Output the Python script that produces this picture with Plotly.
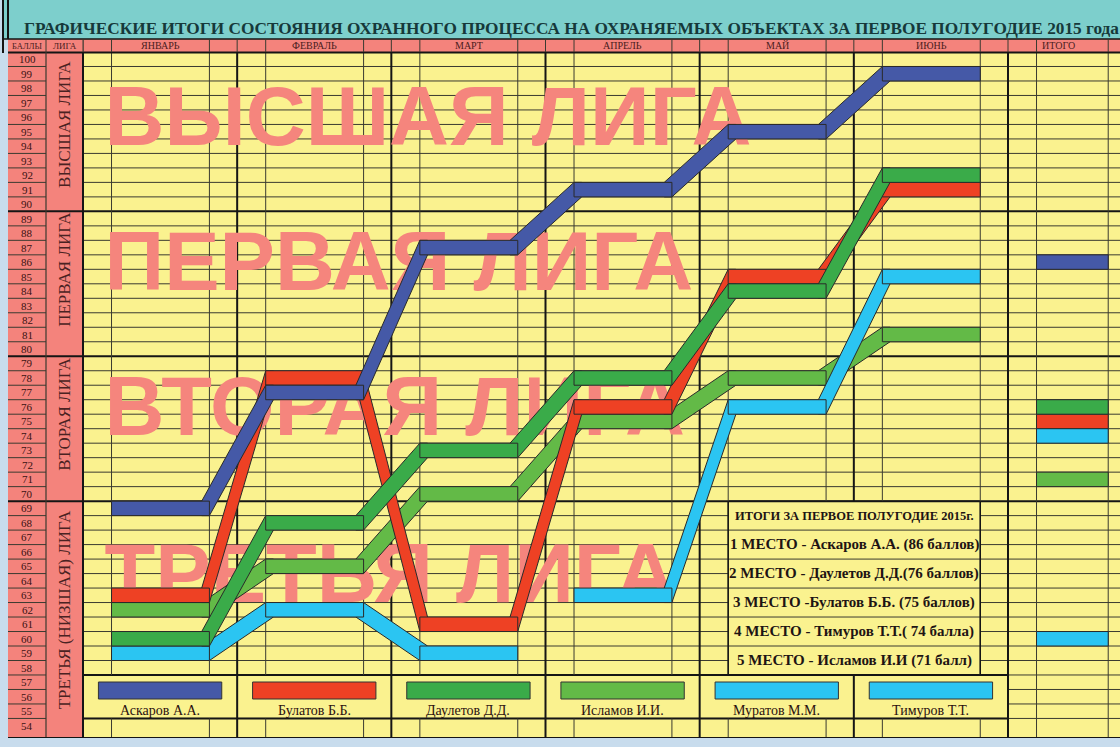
import plotly.graph_objects as go

# ---------------- data ----------------
title_text = "ГРАФИЧЕСКИЕ ИТОГИ СОСТОЯНИЯ ОХРАННОГО ПРОЦЕССА НА ОХРАНЯЕМЫХ ОБЪЕКТАХ ЗА ПЕРВОЕ ПОЛУГОДИЕ 2015 года"
months = ["ЯНВАРЬ", "ФЕВРАЛЬ", "МАРТ", "АПРЕЛЬ", "МАЙ", "ИЮНЬ"]
total_header = "ИТОГО"
score_header = "БАЛЛЫ"
league_header = "ЛИГА"
score_rows = list(range(100, 53, -1))

league_names = ["ВЫСШАЯ ЛИГА", "ПЕРВАЯ ЛИГА", "ВТОРАЯ ЛИГА", "ТРЕТЬЯ (НИЗШАЯ) ЛИГА"]
league_top = [100, 90, 80, 70]
league_bottom = [91, 81, 71, 54]
watermark_names = ["ВЫСШАЯ ЛИГА", "ПЕРВАЯ ЛИГА", "ВТОРАЯ ЛИГА", "ТРЕТЬЯ ЛИГА"]

players = ["Аскаров А.А.", "Булатов Б.Б.", "Даулетов Д.Д.", "Исламов И.И.", "Муратов М.М.", "Тимуров Т.Т."]
player_colors = ["#4559a7", "#ee4124", "#3aab49", "#63ba47", "#2bc5f2", "#2bc5f2"]
askarov = [69, 77, 87, 91, 95, 99]
bulatov = [63, 78, 61, 76, 85, 91]
dauletov = [60, 68, 73, 78, 84, 92]
islamov = [62, 65, 70, 75, 78, 81]
muratov = [59, 62, 59, None, None, None]
timurov = [None, None, None, 63, 76, 85]
series = [askarov, bulatov, dauletov, islamov, muratov, timurov]
totals = [86, 75, 76, 71, 60, 74]

summary_title = "ИТОГИ ЗА ПЕРВОЕ ПОЛУГОДИЕ 2015г."
summary_lines = [
    "1 МЕСТО - Аскаров А.А. (86 баллов)",
    "2 МЕСТО - Даулетов Д.Д.(76 баллов)",
    "3 МЕСТО -Булатов Б.Б. (75 баллов)",
    "4 МЕСТО - Тимуров Т.Т.( 74 балла)",
    "5 МЕСТО - Исламов И.И (71 балл)",
]

# ---------------- layout constants ----------------
W, H = 1120, 747
ML, MT, MB = 83, 52, 9
PW, PH = W - ML, H - MT - MB
BLOCK_PX = 925 / 6.0
XMAX = PW / BLOCK_PX
ROW_PX = 14.488
YTOP = 100.5
YBOT = YTOP - PH / ROW_PX
SUB_L, SUB_R = 0.185, 0.82
TOTAL_R = 6.65
SLANT = 0.05
LEGEND_TOP, LEGEND_BOT = 57.5, 54.5
BOX_X0, BOX_X1 = 4 + SUB_L, 5 + SUB_R
BOX_Y0, BOX_Y1 = 57.5, 69.5

YELLOW = "#faf28f"
SALMON = "#f4837c"
TEAL = "#7dcfcc"
LBLUE = "#c8dced"
THIN = "#3a3a30"
THICK = "#151515"
TXT = "#4a1c1c"
SERIF = "Liberation Serif, Times New Roman, serif"


def pxx(px):
    return (px - ML) / PW


def pxy(py):
    return (H - MB - py) / PH


shapes = []
annotations = []


def line(x0, y0, x1, y1, xref="x", yref="y", color=THIN, width=1, layer="below"):
    shapes.append(dict(type="line", x0=x0, y0=y0, x1=x1, y1=y1, xref=xref, yref=yref,
                       line=dict(color=color, width=width), layer=layer))


def rect(x0, y0, x1, y1, xref="x", yref="y", fill=YELLOW, lc=None, lw=0, layer="below"):
    shapes.append(dict(type="rect", x0=x0, y0=y0, x1=x1, y1=y1, xref=xref, yref=yref,
                       fillcolor=fill, line=dict(color=lc or fill, width=lw), layer=layer))


def label(text, x, y, xref, yref, size, color, family=SERIF, xanchor="center", angle=0):
    annotations.append(dict(text=text, x=x, y=y, xref=xref, yref=yref, xanchor=xanchor,
                            yanchor="middle", showarrow=False, textangle=angle,
                            font=dict(family=family, size=size, color=color)))


def subtract(segs, a, b):
    out = []
    for s0, s1 in segs:
        if b <= s0 or a >= s1:
            out.append((s0, s1))
        else:
            if a > s0:
                out.append((s0, a))
            if b < s1:
                out.append((b, s1))
    return out


# ---------------- title and header ----------------
rect(pxx(3), pxy(39), pxx(W), pxy(0), "paper", "paper", fill=TEAL)
line(pxx(3), pxy(0), pxx(3), pxy(53), "paper", "paper", THICK, 2, "above")
label("<b>" + title_text + "</b>", pxx(22), pxy(28.5), "paper", "paper", 17.3, "#16393a", xanchor="left")
rect(pxx(8), pxy(52), pxx(W), pxy(39), "paper", "paper", fill=SALMON)
line(pxx(3), pxy(39), pxx(W), pxy(39), "paper", "paper", THICK, 1.5, "above")
line(pxx(8), pxy(52.5), pxx(W), pxy(52.5), "paper", "paper", THICK, 2, "above")
for px in (46, ML):
    line(pxx(px), pxy(39), pxx(px), pxy(52), "paper", "paper", THIN, 1, "above")
label(score_header, pxx(26.5), pxy(46), "paper", "paper", 8.5, TXT)
label(league_header, pxx(64.5), pxy(46), "paper", "paper", 9, TXT)
for i, m in enumerate(months):
    label(m, i + (SUB_L + SUB_R) / 2, pxy(46), "x", "paper", 10, TXT)
label(total_header, 6 + SUB_L + 0.02, pxy(46), "x", "paper", 10, TXT, xanchor="left")
header_vlines = []
for i in range(7):
    header_vlines += [i, i + SUB_L]
    header_vlines.append(i + SUB_R if i < 6 else TOTAL_R)
for xv in header_vlines:
    line(xv, pxy(39), xv, pxy(52), "x", "paper", THIN, 1, "above")

# ---------------- left columns ----------------
rect(pxx(8), YBOT, pxx(ML), YTOP, "paper", "y", fill=SALMON)
for v in score_rows:
    label(str(v), pxx(27), v, "paper", "y", 11, "#3a1212")
league_edges = [t - 0.5 for t in league_top[1:]]
for v in score_rows[:-1]:
    b = v - 0.5
    if b in league_edges:
        line(pxx(8), b, pxx(ML), b, "paper", "y", THICK, 2, "above")
    else:
        line(pxx(8), b, pxx(46), b, "paper", "y", THIN, 1, "above")
for name, t, btm in zip(league_names, league_top, league_bottom):
    label(name, pxx(64.5), (t + btm) / 2, "paper", "y", 17, "#4a2222", angle=-90)
line(pxx(8), YBOT, pxx(8), pxy(39), "paper", "paper", THICK, 2, "above")
line(pxx(46), YBOT, pxx(46), YTOP, "paper", "y", THIN, 1.2, "above")
line(pxx(ML), YBOT, pxx(ML), YTOP, "paper", "y", THICK, 2, "above")
line(pxx(8), YBOT, pxx(ML), YBOT, "paper", "y", THICK, 2, "above")

# ---------------- data grid ----------------
merged_box = [BOX_Y0 + 1 + 2 * k for k in range(6)]  # internal boundaries of merged pairs
for v in score_rows[:-1]:
    b = v - 0.5
    segs = [(0, XMAX)]
    if b in merged_box:
        segs = subtract(segs, BOX_X0, BOX_X1)
    if LEGEND_BOT < b < LEGEND_TOP:
        segs = subtract(segs, 0, 6)
    if b in league_edges:
        w, c = 2, THICK
    else:
        w, c = 1, THIN
    for s0, s1 in segs:
        line(s0, b, s1, b, color=c, width=w)
    if b in (LEGEND_TOP, LEGEND_BOT):
        line(0, b, 6, b, color=THICK, width=2)
    if b in (BOX_Y0, BOX_Y1):
        line(BOX_X0, b, BOX_X1, b, color=THICK, width=1.5)

vlines = []
for i in range(7):
    vlines.append((i, THICK, 2))
    vlines.append((i + SUB_L, THIN, 1))
    vlines.append(((i + SUB_R) if i < 6 else TOTAL_R, THIN, 1))
for xv, c, w in vlines:
    segs = [(YBOT, YTOP)]
    if xv < 6 and abs(xv - round(xv)) > 1e-9:
        segs = subtract(segs, LEGEND_BOT, LEGEND_TOP)
    if BOX_X0 + 1e-9 < xv < BOX_X1 - 1e-9:
        segs = subtract(segs, BOX_Y0, BOX_Y1)
    for s0, s1 in segs:
        line(xv, s0, xv, s1, color=c, width=w)
for xv in (BOX_X0, BOX_X1):
    line(xv, BOX_Y0, xv, BOX_Y1, color=THICK, width=1.5)
line(0, YBOT, XMAX, YBOT, color=THICK, width=2)

# ---------------- legend ----------------
for i, (name, col) in enumerate(zip(players, player_colors)):
    rect(i + 0.1, pxy(699), i + 0.9, pxy(682), "x", "paper", fill=col, lc="#333333", lw=1, layer="above")
    label(name, i + 0.5, pxy(710.5), "x", "paper", 14, "#2a1010")

# ---------------- summary box ----------------
box_cx = (BOX_X0 + BOX_X1) / 2
label("<b>" + summary_title + "</b>", box_cx, BOX_Y1 - 1, "x", "y", 12.5, "#1e1414")
for k, txt in enumerate(summary_lines):
    label("<b>" + txt + "</b>", box_cx, BOX_Y1 - 3 - 2 * k, "x", "y", 15, "#1e1414")

# ---------------- traces ----------------
fig = go.Figure()

data_bottom = LEGEND_TOP + 0.5
wm_y = [(t + max(b, data_bottom)) / 2 for t, b in zip(league_top, league_bottom)]
fig.add_trace(go.Scatter(x=[0.14] * len(watermark_names), y=wm_y, mode="text", text=watermark_names,
                         textposition="middle right", hoverinfo="skip", showlegend=False,
                         textfont=dict(family="Liberation Sans, Arial, sans-serif", size=83,
                                       color="#f5857d", weight="bold")))

draw_order = [3, 4, 1, 2, 0, 5]
for k in draw_order:
    vals, col = series[k], player_colors[k]
    dx, dy, px_, py_ = [], [], [], []
    for i, v in enumerate(vals):
        if v is None:
            continue
        x0, x1 = i + SUB_L, i + SUB_R
        px_ += [x0, x1, x1, x0, x0, None]
        py_ += [v + 0.5, v + 0.5, v - 0.5, v - 0.5, v + 0.5, None]
        if i + 1 < len(vals) and vals[i + 1] is not None:
            v2 = vals[i + 1]
            xa, xb = x1, i + 1 + SUB_L
            s = SLANT
            if v2 >= v:
                pts = [(xa - s, v - 0.5), (xa, v - 0.5), (xb + s, v2 - 0.5),
                       (xb + s, v2 + 0.5), (xb, v2 + 0.5), (xa - s, v + 0.5)]
            else:
                pts = [(xa - s, v + 0.5), (xa, v + 0.5), (xb + s, v2 + 0.5),
                       (xb + s, v2 - 0.5), (xb, v2 - 0.5), (xa - s, v - 0.5)]
            pts.append(pts[0])
            dx += [p[0] for p in pts] + [None]
            dy += [p[1] for p in pts] + [None]
    t = totals[k]
    px_ += [6 + SUB_L, TOTAL_R, TOTAL_R, 6 + SUB_L, 6 + SUB_L, None]
    py_ += [t + 0.5, t + 0.5, t - 0.5, t - 0.5, t + 0.5, None]
    for xs, ys in ((dx, dy), (px_, py_)):
        if xs:
            fig.add_trace(go.Scatter(x=xs, y=ys, mode="lines", fill="toself", fillcolor=col,
                                     line=dict(color="#2a2a2a", width=1), hoverinfo="skip",
                                     showlegend=False, name=players[k]))

fig.update_layout(
    width=W, height=H, margin=dict(l=ML, r=0, t=MT, b=MB, pad=0),
    paper_bgcolor=LBLUE, plot_bgcolor=YELLOW, showlegend=False,
    xaxis=dict(range=[0, XMAX], visible=False, fixedrange=True),
    yaxis=dict(range=[YBOT, YTOP], visible=False, fixedrange=True),
    shapes=shapes, annotations=annotations,
)
fig.write_html("out.html", config={"displayModeBar": False},
               post_script="document.body.style.margin='0';document.body.style.overflow='hidden';")
